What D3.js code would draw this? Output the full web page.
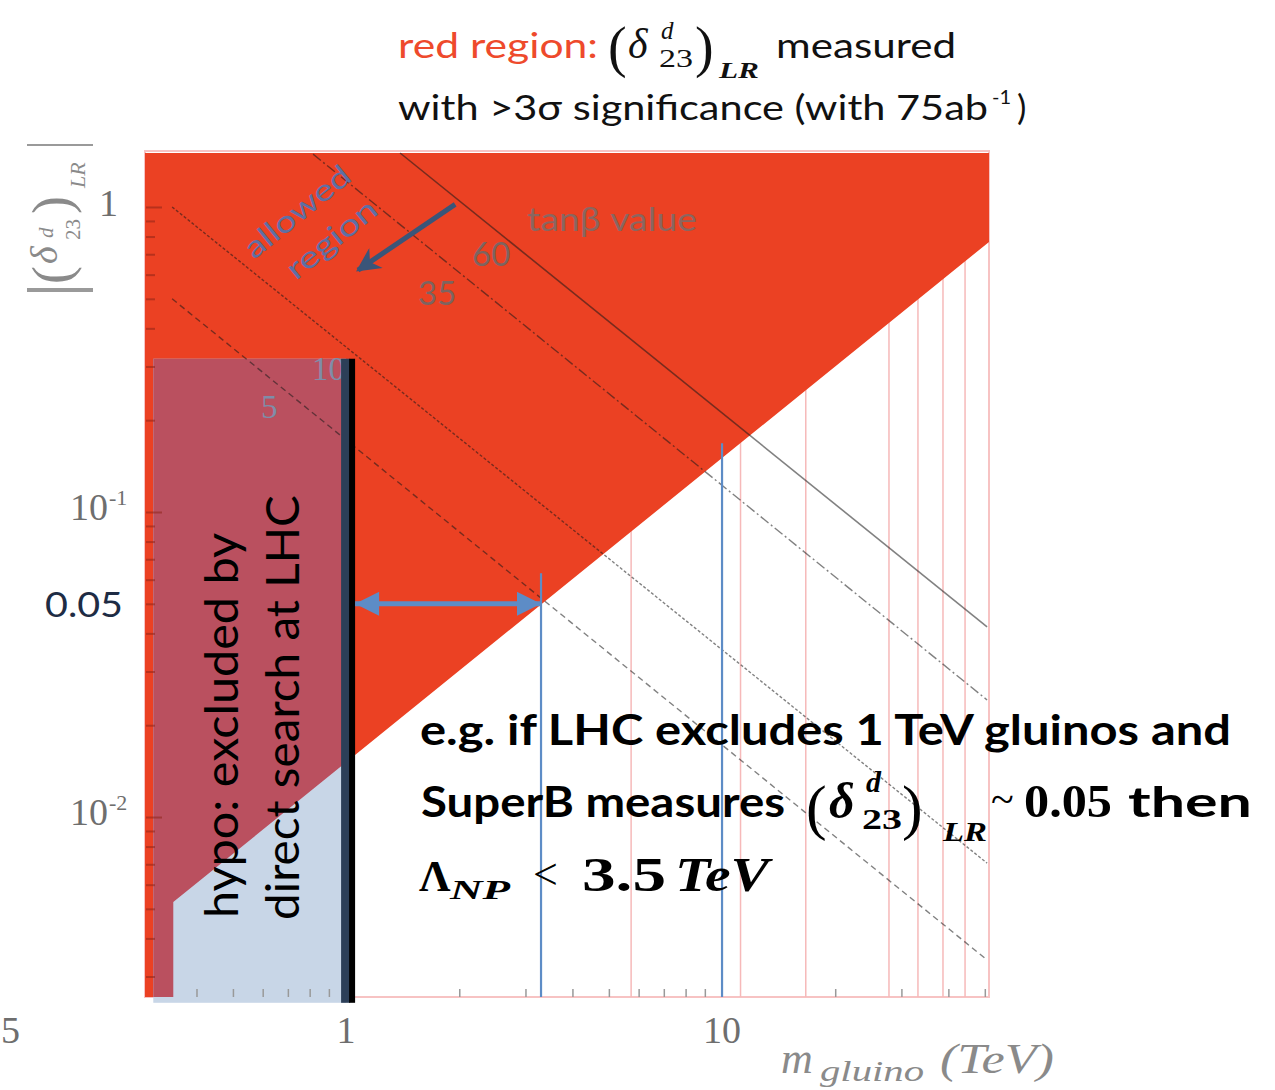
<!DOCTYPE html>
<html><head><meta charset="utf-8">
<script src="https://cdn.jsdelivr.net/npm/d3@7"></script>
<style>body{margin:0;background:#fff}</style>
</head><body>
<svg id="c" width="1275" height="1090"></svg>
<script>
// ---------------- data ----------------
const xDomain = [0.2918, 51.3];          // m_gluino (TeV)
const yDomain = [1.503, 0.00257];        // |(delta^d_23)_LR|
const xTickLabels = [1, 10];
const xTickText = ["1", "10"];
const xMinorTicks = [0.4,0.5,0.6,0.7,0.8,0.9,2,3,4,5,6,7,8,9,20,30,40,50];
const yMajorTicks = [1, 0.1, 0.01];
const yMinorTicks = [0.9,0.8,0.7,0.6,0.5,0.4,0.3,0.2,0.09,0.08,0.07,0.06,0.05,0.04,0.03,0.02,0.009,0.008,0.007,0.006,0.005,0.004,0.003];
const redBoundaryM = [51.3, 0.347];      // lower edge of red region (>3 sigma)
const redBoundaryD = [0.768, 0.00526];
const pinkGridM = [5.73, 11.2, 16.7, 27.8, 33.2, 38.7, 44.3];
const lhcBoxM = [0.307, 1.0];
const lhcBoxD = [0.318, 0.00246];
const lhcLimit = 1.0;
const tanbLabels = ["60", "35", "10", "5"];
const tanbStartM = [1.392, 0.817, 0.3445, 0.3445];
const tanbStartD = [1.503, 1.49, 1.0, 0.5];
const tanbEndM = [50.7, 50.7, 50.7, 50.7];
const tanbEndD = [0.042, 0.0242, 0.00706, 0.0034];
const tanbDash = ["none", "10,3,2,3", "3,2", "6,4"];
const blueLinesM = [3.3, 10];
const blueLinesTopD = [0.063, 0.168];
const measuredDelta = 0.05;
const npBound = 3.3;
const allowedArrowM = [1.95, 1.076];
const allowedArrowD = [1.02, 0.621];

// ---------------- scales ----------------
const svg = d3.select("#c");
const x = d3.scaleLog().domain(xDomain).range([145, 989]);
const y = d3.scaleLog().domain(yDomain).range([153, 997]);
const line = d3.line().x(d => x(d[0])).y(d => y(d[1]));

const SANS = "Lato, 'Open Sans', sans-serif";
const SERIF = "'Liberation Serif', 'DejaVu Serif', serif";

const defs = svg.append("defs");

// frame
svg.append("rect").attr("x", 145).attr("y", 151).attr("width", 844).attr("height", 846)
  .attr("fill", "none").attr("stroke", "#f7c3c3").attr("stroke-width", 2);

// pink grid lines
svg.append("g").selectAll("line").data(pinkGridM).join("line")
  .attr("x1", d => x(d)).attr("x2", d => x(d))
  .attr("y1", y(yDomain[0])).attr("y2", y(yDomain[1]))
  .attr("stroke", "#f6b9b9").attr("stroke-width", 1.5);

// red region polygon
const redPts = [
  [xDomain[0], yDomain[0]], [xDomain[1], yDomain[0]],
  [redBoundaryM[0], redBoundaryD[0]], [redBoundaryM[1], redBoundaryD[1]],
  [redBoundaryM[1], yDomain[1]], [xDomain[0], yDomain[1]]
];
svg.append("path").attr("d", line(redPts) + "Z").attr("fill", "#EB4123");

// LHC excluded box
const bx0 = x(lhcBoxM[0]), bx1 = x(lhcBoxM[1]), by0 = y(lhcBoxD[0]), by1 = y(lhcBoxD[1]);
svg.append("rect").attr("x", bx0).attr("y", by0).attr("width", bx1 - bx0).attr("height", by1 - by0)
  .attr("fill", "#C8D6E7");
defs.append("clipPath").attr("id", "boxclip").append("rect")
  .attr("x", bx0).attr("y", by0).attr("width", bx1 - bx0).attr("height", by1 - by0);
svg.append("path").attr("d", line(redPts) + "Z").attr("fill", "#BA505F").attr("clip-path", "url(#boxclip)");

// left axis ticks (inward)
const yAxisMinor = d3.axisLeft(y).tickValues(yMinorTicks).tickFormat("").tickSizeInner(-9).tickSizeOuter(0);
const yAxisMajor = d3.axisLeft(y).tickValues(yMajorTicks).tickFormat("").tickSizeInner(-16).tickSizeOuter(0);
[yAxisMinor, yAxisMajor].forEach(ax => {
  const g = svg.append("g").attr("transform", "translate(146,0)").call(ax);
  g.select(".domain").remove();
  g.selectAll("line").attr("stroke", "#8c2418").attr("stroke-opacity", 0.55).attr("stroke-width", 2);
});
// bottom axis ticks (inward)
const xAxisMinor = d3.axisBottom(x).tickValues(xMinorTicks).tickFormat("").tickSizeInner(-8).tickSizeOuter(0);
{
  const g = svg.append("g").attr("transform", "translate(0,997)").call(xAxisMinor);
  g.select(".domain").remove();
  g.selectAll("line").attr("stroke", "#999").attr("stroke-width", 1.5);
}

// tan beta lines
svg.append("g").selectAll("path").data(tanbLabels).join("path")
  .attr("d", (d, i) => line([[tanbStartM[i], tanbStartD[i]], [tanbEndM[i], tanbEndD[i]]]))
  .attr("fill", "none").attr("stroke", "#1a1a1a").attr("stroke-opacity", 0.55)
  .attr("stroke-width", (d, i) => i === 0 ? 1.6 : 1.4)
  .attr("stroke-dasharray", (d, i) => tanbDash[i]);

// tan beta labels
const tanbLabelPos = [[472, 266, SANS, "#7d6460"], [418, 305, SANS, "#7d6460"], [312, 380, SERIF, "#7f8da8"], [261, 418, SERIF, "#7f8da8"]];
svg.append("g").selectAll("text").data(tanbLabels).join("text")
  .attr("x", (d, i) => tanbLabelPos[i][0]).attr("y", (d, i) => tanbLabelPos[i][1])
  .attr("font-family", (d, i) => tanbLabelPos[i][2]).attr("font-size", 33)
  .attr("fill", (d, i) => tanbLabelPos[i][3]).text(d => d);
svg.append("text").attr("x", 527).attr("y", 231).attr("font-family", SANS).attr("font-size", 33)
  .attr("fill", "#8a6660").attr("textLength", 170).attr("lengthAdjust", "spacingAndGlyphs").text("tanβ value");

// allowed region text + arrow
svg.append("text").attr("transform", "translate(254,260) rotate(-39)")
  .attr("font-family", SANS).attr("font-size", 30).attr("fill", "#5f6fa3")
  .attr("textLength", 128).attr("lengthAdjust", "spacingAndGlyphs").text("allowed");
svg.append("text").attr("transform", "translate(296,281) rotate(-39)")
  .attr("font-family", SANS).attr("font-size", 30).attr("fill", "#5f6fa3")
  .attr("textLength", 108).attr("lengthAdjust", "spacingAndGlyphs").text("region");

defs.append("marker").attr("id", "navyHead").attr("viewBox", "0 0 10 10").attr("refX", 9).attr("refY", 5)
  .attr("markerUnits", "userSpaceOnUse").attr("markerWidth", 26).attr("markerHeight", 24).attr("orient", "auto")
  .append("path").attr("d", "M0,0 L10,5 L0,10 L3,5 Z").attr("fill", "#3a5579");
svg.append("line")
  .attr("x1", x(allowedArrowM[0])).attr("y1", y(allowedArrowD[0]))
  .attr("x2", x(allowedArrowM[1])).attr("y2", y(allowedArrowD[1]))
  .attr("stroke", "#3a5579").attr("stroke-width", 5).attr("marker-end", "url(#navyHead)");

// blue vertical lines
svg.append("g").selectAll("line").data(blueLinesM).join("line")
  .attr("x1", d => x(d)).attr("x2", d => x(d))
  .attr("y1", (d, i) => y(blueLinesTopD[i])).attr("y2", y(yDomain[1]))
  .attr("stroke", "#5d8cc6").attr("stroke-width", 2.2);

// LHC limit bar
const barX = x(lhcLimit);
svg.append("rect").attr("x", barX - 5).attr("y", by0).attr("width", 9).attr("height", by1 - by0).attr("fill", "#2c3f58");
svg.append("rect").attr("x", barX + 3).attr("y", by0).attr("width", 6).attr("height", by1 - by0).attr("fill", "#000");

// double arrow at delta = 0.05
defs.append("marker").attr("id", "blueHead").attr("viewBox", "0 0 10 10").attr("refX", 10).attr("refY", 5)
  .attr("markerUnits", "userSpaceOnUse").attr("markerWidth", 26).attr("markerHeight", 24).attr("orient", "auto-start-reverse")
  .append("path").attr("d", "M0,0 L10,5 L0,10 Z").attr("fill", "#5d8cc6");
svg.append("line")
  .attr("x1", barX + 9).attr("y1", y(measuredDelta)).attr("x2", x(npBound)).attr("y2", y(measuredDelta))
  .attr("stroke", "#5d8cc6").attr("stroke-width", 5)
  .attr("marker-start", "url(#blueHead)").attr("marker-end", "url(#blueHead)");

// vertical text in box
svg.append("text").attr("transform", "translate(238,918) rotate(-90)")
  .attr("font-family", SANS).attr("font-size", 46).attr("fill", "#000")
  .attr("textLength", 385).attr("lengthAdjust", "spacingAndGlyphs").text("hypo: excluded by");
svg.append("text").attr("transform", "translate(299,920) rotate(-90)")
  .attr("font-family", SANS).attr("font-size", 46).attr("fill", "#000")
  .attr("textLength", 425).attr("lengthAdjust", "spacingAndGlyphs").text("direct search at LHC");

// ---------------- axis labels ----------------
const gray = "#6e6e6e";
svg.append("text").attr("x", 99).attr("y", y(1) + 9).attr("font-family", SERIF).attr("font-size", 38).attr("fill", gray).text("1");
[[0.1, "-1"], [0.01, "-2"]].forEach(([v, e]) => {
  svg.append("text").attr("x", 70).attr("y", y(v) + 8).attr("font-family", SERIF).attr("font-size", 38).attr("fill", gray).text("10");
  svg.append("text").attr("x", 109).attr("y", y(v) - 7).attr("font-family", SERIF).attr("font-size", 22).attr("fill", gray).text(e);
});
svg.append("text").attr("x", 45).attr("y", y(measuredDelta) + 13).attr("font-family", SANS).attr("font-size", 35)
  .attr("fill", "#1e2c44").attr("textLength", 78).attr("lengthAdjust", "spacingAndGlyphs").text("0.05");
svg.append("g").selectAll("text").data(xTickLabels).join("text")
  .attr("x", d => x(d)).attr("y", 1043).attr("text-anchor", "middle")
  .attr("font-family", SERIF).attr("font-size", 38).attr("fill", gray).text((d, i) => xTickText[i]);
svg.append("text").attr("x", 1).attr("y", 1043).attr("font-family", SERIF).attr("font-size", 38).attr("fill", gray).text("5");

// x title
const xt = svg.append("text").attr("font-family", SERIF).attr("fill", "#8a8a8a").attr("font-style", "italic");
xt.append("tspan").attr("x", 781).attr("y", 1073).attr("font-size", 44).text("m");
xt.append("tspan").attr("x", 820).attr("y", 1081).attr("font-size", 30).attr("textLength", 104).attr("lengthAdjust", "spacingAndGlyphs").text("gluino");
xt.append("tspan").attr("x", 940).attr("y", 1073).attr("font-size", 42).attr("textLength", 114).attr("lengthAdjust", "spacingAndGlyphs").text("(TeV)");

// y title (rotated)
svg.append("line").attr("x1", 27).attr("x2", 93).attr("y1", 145).attr("y2", 145).attr("stroke", "#9a9a9a").attr("stroke-width", 2);
svg.append("line").attr("x1", 27).attr("x2", 93).attr("y1", 290).attr("y2", 290).attr("stroke", "#9a9a9a").attr("stroke-width", 4);
const yt = svg.append("g").attr("transform", "translate(57,290) rotate(-90)").attr("fill", "#8a8a8a").attr("font-family", SERIF);
yt.append("text").attr("x", 6).attr("y", 13).attr("font-size", 54).text("(");
yt.append("text").attr("x", 26).attr("y", 0).attr("font-size", 38).attr("font-style", "italic").text("δ");
yt.append("text").attr("x", 52).attr("y", -4).attr("font-size", 21).attr("font-style", "italic").text("d");
yt.append("text").attr("x", 50).attr("y", 23).attr("font-size", 21).text("23");
yt.append("text").attr("x", 76).attr("y", 13).attr("font-size", 54).text(")");
yt.append("text").attr("x", 102).attr("y", 28).attr("font-size", 22).attr("font-style", "italic").text("LR");

// ---------------- title ----------------
svg.append("text").attr("x", 398).attr("y", 58).attr("font-family", SANS).attr("font-size", 35).attr("fill", "#EE4A2C")
  .attr("textLength", 200).attr("lengthAdjust", "spacingAndGlyphs").text("red region:");
const tm = svg.append("g").attr("fill", "#111").attr("font-family", SERIF);
tm.append("text").attr("x", 608).attr("y", 66).attr("font-size", 56).text("(");
tm.append("text").attr("x", 628).attr("y", 58).attr("font-size", 42).attr("font-style", "italic").text("δ");
tm.append("text").attr("x", 661).attr("y", 39).attr("font-size", 25).attr("font-style", "italic").text("d");
tm.append("text").attr("x", 659).attr("y", 67).attr("font-size", 25).attr("textLength", 34).attr("lengthAdjust", "spacingAndGlyphs").text("23");
tm.append("text").attr("x", 695).attr("y", 66).attr("font-size", 56).text(")");
tm.append("text").attr("x", 719).attr("y", 78).attr("font-size", 24).attr("font-style", "italic").attr("font-weight", "bold")
  .attr("textLength", 40).attr("lengthAdjust", "spacingAndGlyphs").text("LR");
svg.append("text").attr("x", 776).attr("y", 58).attr("font-family", SANS).attr("font-size", 35).attr("fill", "#111")
  .attr("textLength", 180).attr("lengthAdjust", "spacingAndGlyphs").text("measured");
svg.append("text").attr("x", 398).attr("y", 120).attr("font-family", SANS).attr("font-size", 35).attr("fill", "#111")
  .attr("textLength", 590).attr("lengthAdjust", "spacingAndGlyphs").text("with >3σ significance (with 75ab");
svg.append("text").attr("x", 992).attr("y", 104).attr("font-family", SANS).attr("font-size", 20).attr("fill", "#111").text("-1");
svg.append("text").attr("x", 1017).attr("y", 120).attr("font-family", SANS).attr("font-size", 35).attr("fill", "#111").text(")");

// ---------------- annotation ----------------
const ann = svg.append("g").attr("fill", "#000");
ann.append("text").attr("x", 420).attr("y", 745).attr("font-family", SANS).attr("font-weight", "bold").attr("font-size", 42)
  .attr("textLength", 811).attr("lengthAdjust", "spacingAndGlyphs").text("e.g. if LHC excludes 1 TeV gluinos and");
ann.append("text").attr("x", 421).attr("y", 817).attr("font-family", SANS).attr("font-weight", "bold").attr("font-size", 42)
  .attr("textLength", 364).attr("lengthAdjust", "spacingAndGlyphs").text("SuperB measures");
ann.append("text").attr("x", 806).attr("y", 828).attr("font-family", SERIF).attr("font-size", 62).text("(");
ann.append("text").attr("x", 829).attr("y", 818).attr("font-family", SERIF).attr("font-size", 50).attr("font-weight", "bold").attr("font-style", "italic").text("δ");
ann.append("text").attr("x", 866).attr("y", 792).attr("font-family", SERIF).attr("font-size", 30).attr("font-weight", "bold").attr("font-style", "italic").text("d");
ann.append("text").attr("x", 862).attr("y", 829).attr("font-family", SERIF).attr("font-size", 30).attr("font-weight", "bold")
  .attr("textLength", 40).attr("lengthAdjust", "spacingAndGlyphs").text("23");
ann.append("text").attr("x", 902).attr("y", 828).attr("font-family", SERIF).attr("font-size", 62).text(")");
ann.append("text").attr("x", 943).attr("y", 841).attr("font-family", SERIF).attr("font-size", 28).attr("font-weight", "bold").attr("font-style", "italic")
  .attr("textLength", 44).attr("lengthAdjust", "spacingAndGlyphs").text("LR");
ann.append("text").attr("x", 991).attr("y", 813).attr("font-family", SERIF).attr("font-size", 42).text("~");
ann.append("text").attr("x", 1024).attr("y", 817).attr("font-family", SERIF).attr("font-size", 46).attr("font-weight", "bold")
  .attr("textLength", 88).attr("lengthAdjust", "spacingAndGlyphs").text("0.05");
ann.append("text").attr("x", 1128).attr("y", 817).attr("font-family", SANS).attr("font-weight", "bold").attr("font-size", 42)
  .attr("textLength", 124).attr("lengthAdjust", "spacingAndGlyphs").text("then");
ann.append("text").attr("x", 419).attr("y", 891).attr("font-family", SERIF).attr("font-size", 44).attr("font-weight", "bold").text("Λ");
ann.append("text").attr("x", 450).attr("y", 899).attr("font-family", SERIF).attr("font-size", 28).attr("font-weight", "bold").attr("font-style", "italic")
  .attr("textLength", 60).attr("lengthAdjust", "spacingAndGlyphs").text("NP");
ann.append("text").attr("x", 533).attr("y", 889).attr("font-family", SERIF).attr("font-size", 44).text("<");
ann.append("text").attr("x", 582).attr("y", 891).attr("font-family", SERIF).attr("font-size", 48).attr("font-weight", "bold")
  .attr("textLength", 84).attr("lengthAdjust", "spacingAndGlyphs").text("3.5");
ann.append("text").attr("x", 675).attr("y", 891).attr("font-family", SERIF).attr("font-size", 48).attr("font-weight", "bold").attr("font-style", "italic")
  .attr("textLength", 94).attr("lengthAdjust", "spacingAndGlyphs").text("TeV");
</script>
</body></html>
